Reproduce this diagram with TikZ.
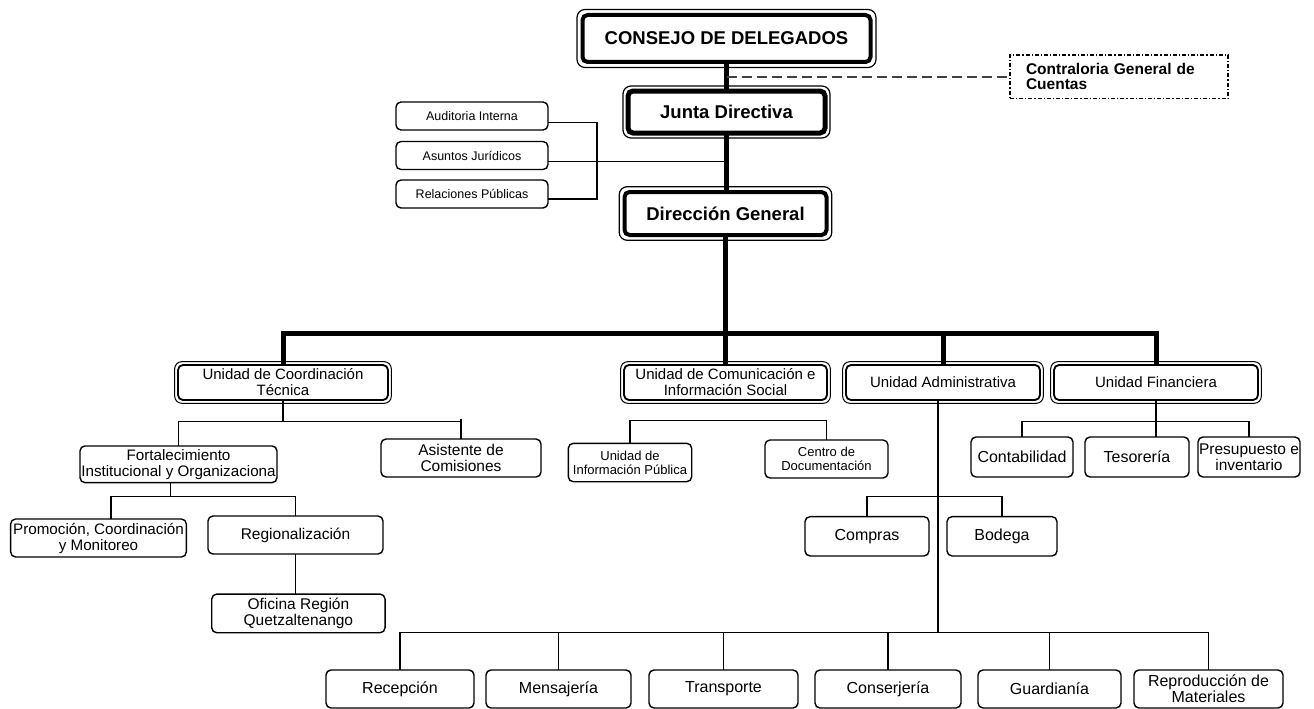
\documentclass[tikz,border=0pt]{standalone}
\usepackage{fontspec}
\setmainfont{Liberation Sans}
\begin{document}
\begin{tikzpicture}[x=1pt,y=-1pt,
  every node/.style={outer sep=0pt,inner sep=1pt},
  topbox/.style={draw,line width=4pt,rounded corners=5pt,font=\bfseries\fontsize{18.5}{21}\selectfont},
  unitbox/.style={draw,line width=1.8pt,rounded corners=5pt,align=center,font=\fontsize{15}{16}\selectfont},
  plainbox/.style={draw,line width=1.4pt,rounded corners=5pt,align=center,font=\fontsize{15.5}{16}\selectfont},
  smallbox/.style={plainbox,font=\fontsize{12.5}{14}\selectfont},
  tinybox/.style={plainbox,font=\fontsize{13}{14}\selectfont},
  lowbox/.style={plainbox,font=\fontsize{16}{16}\selectfont},
  contrabox/.style={draw,line width=1.3pt,dash pattern=on 4pt off 2pt on 1.2pt off 2pt,align=left,
     font=\bfseries\fontsize{15.5}{15}\selectfont,text width=186pt,inner xsep=16pt},
  thickline/.style={line width=5pt,line join=miter},
  thinline/.style={line width=1.3pt},
  dashline/.style={line width=1.5pt,black!75,dash pattern=on 10pt off 5pt},
  frameline/.style={line width=1.2pt,rounded corners=8pt},
  uframe/.style={line width=1pt,rounded corners=7pt}
]
\useasboundingbox (0,0) rectangle (1314,709);

% top hierarchy
\node[topbox,minimum width=288pt,minimum height=47pt] (consejo) at (726.5,38.5) {CONSEJO DE DELEGADOS};
\node[topbox,line width=5pt,minimum width=197pt,minimum height=42pt] (junta) at (726.5,112) {Junta Directiva};
\node[topbox,minimum width=202pt,minimum height=43pt] (dir) at (725.5,213.5) {Dirección General};
\foreach \n/\o in {consejo/5.5,junta/5,dir/5.3}
  \draw[frameline] ([shift={(-\o,-\o)}]\n.north west) rectangle ([shift={(\o,\o)}]\n.south east);

\node[contrabox,minimum height=43.5pt] (contra) at (1119,76.75) {Contraloria General de\\Cuentas};

\node[smallbox,minimum width=152pt,minimum height=28pt] (aud) at (472,116) {Auditoria Interna};
\node[smallbox,minimum width=152pt,minimum height=28pt] (asu) at (472,155.5) {Asuntos Jurídicos};
\node[smallbox,minimum width=152pt,minimum height=28pt] (rel) at (472,194) {Relaciones Públicas};

% unidades
\node[unitbox,minimum width=210pt,minimum height=35pt] (uct) at (283,382.5) {Unidad de Coordinación\\Técnica};
\node[unitbox,minimum width=203pt,minimum height=35pt] (ucis) at (725.5,382.5) {Unidad de Comunicación e\\Información Social};
\node[unitbox,minimum width=194pt,minimum height=35pt] (ua) at (943,382.5) {Unidad Administrativa};
\node[unitbox,minimum width=204pt,minimum height=35pt] (uf) at (1156,382.5) {Unidad Financiera};
\foreach \n in {uct,ucis,ua,uf}
  \draw[uframe] ([shift={(-3.3,-3.3)}]\n.north west) rectangle ([shift={(3.3,3.3)}]\n.south east);

% coordinacion tecnica
\node[plainbox,font=\fontsize{15.2}{16}\selectfont,minimum width=197pt,minimum height=36.7pt] (fort) at (178.5,464.3) {Fortalecimiento\\Institucional y Organizaciona};
\node[plainbox,minimum width=160pt,minimum height=38pt] (asis) at (461,458) {Asistente de\\Comisiones};
\node[plainbox,font=\fontsize{15.2}{16}\selectfont,minimum width=175.7pt,minimum height=38pt] (prom) at (98.5,538) {Promoción, Coordinación\\y Monitoreo};
\node[plainbox,minimum width=175pt,minimum height=38pt] (reg) at (295.5,535) {Regionalización};
\node[plainbox,minimum width=173.3pt,minimum height=38.7pt] (ofi) at (298.4,613.4) {Oficina Región\\Quetzaltenango};

% comunicacion
\node[tinybox,minimum width=123.4pt,minimum height=38.4pt] (uip) at (630,462.5) {Unidad de\\Información Pública};
\node[tinybox,minimum width=123pt,minimum height=38pt] (cd) at (826.5,459) {Centro de\\Documentación};

% administrativa
\node[lowbox,minimum width=124pt,minimum height=39.3pt] (com) at (867,536.3) {Compras};
\node[lowbox,minimum width=110pt,minimum height=39.3pt] (bod) at (1002,536.3) {Bodega};

% financiera
\node[lowbox,minimum width=102pt,minimum height=40pt] (cont) at (1022,457) {Contabilidad};
\node[lowbox,minimum width=104pt,minimum height=40pt] (teso) at (1137,457) {Tesorería};
\node[lowbox,font=\fontsize{15.5}{16}\selectfont,minimum width=102pt,minimum height=40pt] (pres) at (1249,457) {Presupuesto e\\inventario};

% bottom row
\node[lowbox,minimum width=148pt,minimum height=38pt] (rec) at (400,689) {Recepción};
\node[lowbox,minimum width=145pt,minimum height=38pt] (men) at (558.5,689) {Mensajería};
\node[lowbox,minimum width=149pt,minimum height=38pt] (tra) at (723.5,689) {Transporte};
\node[lowbox,minimum width=146pt,minimum height=38pt] (con) at (888,689) {Conserjería};
\node[lowbox,minimum width=143pt,minimum height=38pt] (gua) at (1049.5,689) {Guardianía};
\node[lowbox,minimum width=149pt,minimum height=38pt] (rep) at (1208.5,689) {Reproducción de\\Materiales};

% bus coordinates
\coordinate (bus) at (0,333);
\coordinate (tb) at (0,421.7);
\coordinate (fb2) at (0,496.7);
\coordinate (ub) at (0,420.7);
\coordinate (cb) at (0,496.7);
\coordinate (fb) at (0,421.7);
\coordinate (bb) at (0,632.7);

% thick connectors
\draw[thickline] (consejo.south) -- (consejo.south |- junta.north);
\draw[thickline] (junta.south) -- (junta.south |- dir.north);
\draw[thickline] (dir.south) -- (dir.south |- bus);
\draw[thickline] (uct.north) -- (uct.north |- bus) -- (uf.north |- bus) -- (uf.north);
\draw[thickline] (ucis.north) -- (ucis.north |- bus);
\draw[thickline] (ua.north) -- (ua.north |- bus);

% dashed link
\draw[dashline] (contra.west -| consejo.south) -- (contra.west);

% staff units
\draw[thinline] ([yshift=-6.3pt]aud.east) -- ++(49,0) |- ([yshift=-5pt]rel.east);
\draw[thinline] ([yshift=-5.8pt]asu.east) -- ([yshift=-5.8pt]asu.east -| junta.south);

% coordinacion tecnica
\draw[thinline] (uct.south) -- (uct.south |- tb);
\draw[thinline] (fort.north) -- (fort.north |- tb) -- (asis.north |- tb) -- ([yshift=3pt]asis.north |- tb);
\draw[thinline] (asis.north |- tb) -- (asis.north);
\draw[thinline] ([xshift=-8pt]fort.south) -- ([xshift=-8pt]fort.south |- fb2);
\draw[thinline] ([xshift=12.5pt]prom.north) -- ([xshift=12.5pt]prom.north |- fb2) -- (reg.north |- fb2) -- (reg.north);
\draw[thinline] (reg.south) -- (reg.south |- ofi.north);

% comunicacion
\draw[thinline] (uip.north) -- (uip.north |- ub) -- (cd.north |- ub) -- (cd.north);

% administrativa
\draw[thinline] ([xshift=-5pt]ua.south) -- ([xshift=-5pt]ua.south |- bb);
\draw[thinline] (com.north) -- (com.north |- cb) -- (bod.north |- cb) -- (bod.north);
\draw[thinline] (rec.north) -- (rec.north |- bb) -- (rep.north |- bb) -- (rep.north);
\foreach \n in {men,tra,con,gua}
  \draw[thinline] (\n.north) -- (\n.north |- bb);

% financiera
\draw[thinline] (uf.south) -- (uf.south |- teso.north);
\draw[thinline] (cont.north) -- (cont.north |- fb) -- (pres.north |- fb) -- (pres.north);
\end{tikzpicture}
\end{document}
